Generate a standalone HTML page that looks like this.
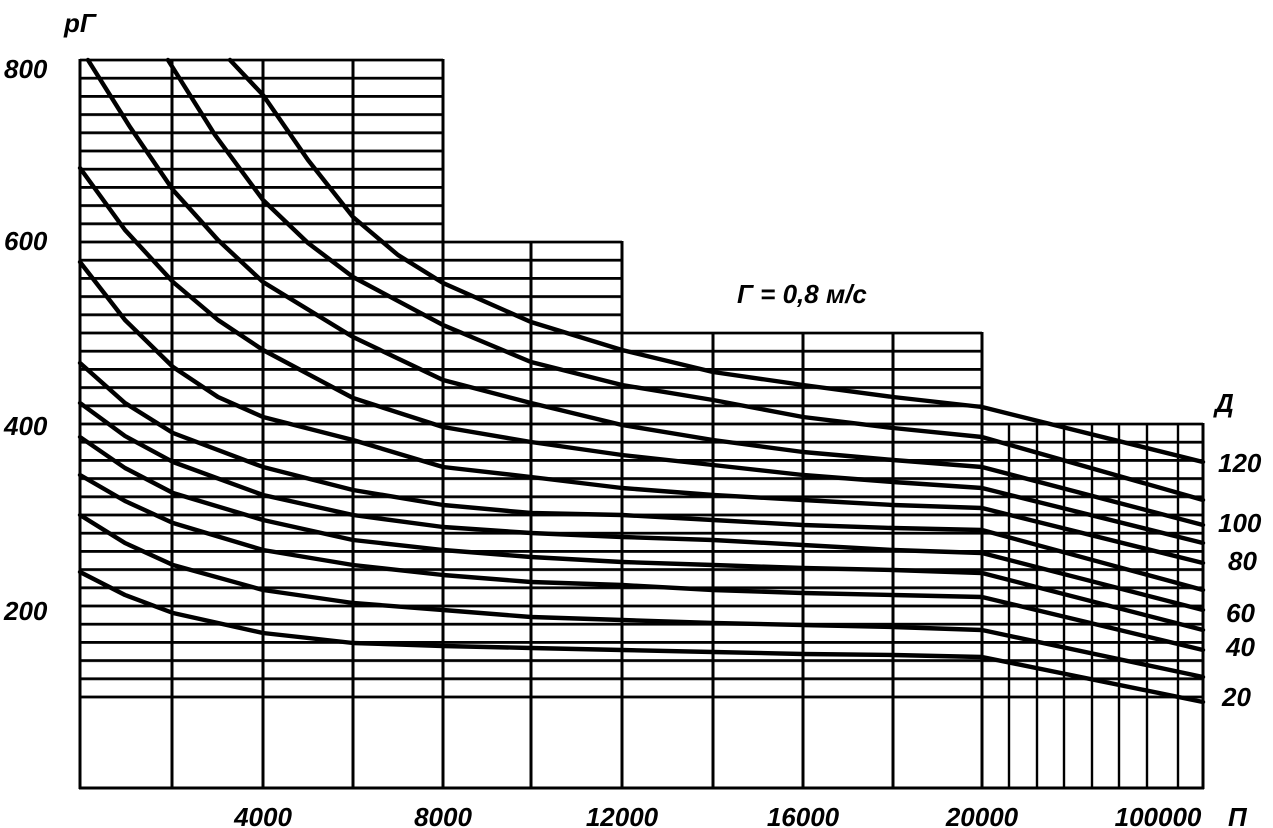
<!DOCTYPE html>
<html><head><meta charset="utf-8"><style>
html,body{margin:0;padding:0;background:#fff;}
svg{display:block;}
text{font-family:"Liberation Sans","DejaVu Sans",sans-serif;font-style:italic;fill:#000;}
</style></head><body>
<svg width="1273" height="828" viewBox="0 0 1273 828" xmlns="http://www.w3.org/2000/svg">
<defs>
<pattern id="h" patternUnits="userSpaceOnUse" x="0" y="58.6" width="20" height="18.2">
<rect x="0" y="0" width="20" height="2.8" fill="#000"/>
</pattern>
</defs>
<rect width="1273" height="828" fill="#fff"/>
<rect x="80" y="58.6" width="363" height="640.8" fill="url(#h)"/>
<rect x="443" y="240.6" width="179" height="458.8" fill="url(#h)"/>
<rect x="622" y="331.6" width="360" height="367.8" fill="url(#h)"/>
<rect x="982" y="422.6" width="221" height="276.8" fill="url(#h)"/>
<g stroke="#000" stroke-width="3" fill="none">
<line x1="80" y1="59" x2="80" y2="789"/>
<line x1="172" y1="59" x2="172" y2="789"/>
<line x1="263" y1="59" x2="263" y2="789"/>
<line x1="353" y1="59" x2="353" y2="789"/>
<line x1="443" y1="59" x2="443" y2="789"/>
<line x1="531" y1="241" x2="531" y2="789"/>
<line x1="622" y1="241" x2="622" y2="789"/>
<line x1="713" y1="332" x2="713" y2="789"/>
<line x1="803" y1="332" x2="803" y2="789"/>
<line x1="893" y1="332" x2="893" y2="789"/>
<line x1="982" y1="332" x2="982" y2="789"/>
<line x1="1203" y1="423" x2="1203" y2="789"/>
<line x1="79" y1="788" x2="1204" y2="788"/>
</g>
<g stroke="#000" stroke-width="2.4" fill="none">
<line x1="1009" y1="423" x2="1009" y2="788"/>
<line x1="1037" y1="423" x2="1037" y2="788"/>
<line x1="1064" y1="423" x2="1064" y2="788"/>
<line x1="1092" y1="423" x2="1092" y2="788"/>
<line x1="1119" y1="423" x2="1119" y2="788"/>
<line x1="1147" y1="423" x2="1147" y2="788"/>
<line x1="1178" y1="423" x2="1178" y2="788"/>
</g>
<g stroke="#000" stroke-width="4.4" fill="none" stroke-linejoin="round" stroke-linecap="round">
<polyline points="230,60 263,95 308,160 353,217 398,255 443,283 531,322 622,350 713,372 803,385 893,397 982,407 1203,462"/>
<polyline points="168,60 215,135 263,200 308,243 353,277 443,325 531,362 622,385 713,400 803,417 893,428 982,437 1203,500"/>
<polyline points="88,60 130,127 173,190 218,240 263,282 353,337 443,380 531,403 622,425 713,440 803,452 893,460 982,467 1203,525"/>
<polyline points="80,168 125,230 173,282 218,320 263,350 353,398 443,427 531,442 622,455 713,465 803,475 893,482 982,488 1203,543"/>
<polyline points="80,262 125,320 173,367 218,397 263,417 353,440 443,467 531,477 622,488 713,495 803,500 893,505 982,508 1203,563"/>
<polyline points="80,363 125,403 173,433 263,467 353,490 443,505 531,513 622,515 713,520 803,525 893,528 982,530 1203,590"/>
<polyline points="80,403 125,436 173,462 263,495 353,515 443,527 531,533 622,537 713,540 803,545 893,550 982,553 1203,610"/>
<polyline points="80,437 125,468 173,493 263,520 353,540 443,550 531,557 622,562 713,565 803,568 893,570 982,573 1203,630"/>
<polyline points="80,475 125,501 173,523 263,550 353,565 443,575 531,582 622,585 713,590 803,593 893,595 982,597 1203,650"/>
<polyline points="80,515 125,543 173,565 263,590 353,603 443,610 531,617 622,620 713,623 803,625 893,627 982,630 1203,677"/>
<polyline points="80,572 125,595 173,613 263,633 353,643 443,646 531,648 622,650 713,652 803,654 893,655 982,657 1203,702"/>
</g>
<g font-size="26" font-weight="bold">
<text x="4" y="78">800</text>
<text x="4" y="250">600</text>
<text x="4" y="435">400</text>
<text x="4" y="620">200</text>
<text x="64" y="32">рГ</text>
<text x="263" y="826" text-anchor="middle">4000</text>
<text x="443" y="826" text-anchor="middle">8000</text>
<text x="622" y="826" text-anchor="middle">12000</text>
<text x="803" y="826" text-anchor="middle">16000</text>
<text x="982" y="826" text-anchor="middle">20000</text>
<text x="1158" y="826" text-anchor="middle">100000</text>
<text x="1228" y="826">П</text>
<text x="1215" y="412">Д</text>
<text x="1218" y="472">120</text>
<text x="1218" y="532">100</text>
<text x="1228" y="570">80</text>
<text x="1226" y="622">60</text>
<text x="1226" y="656">40</text>
<text x="1222" y="706">20</text>
<text x="737" y="303">Г = 0,8 м/с</text>
</g>
</svg>
</body></html>
